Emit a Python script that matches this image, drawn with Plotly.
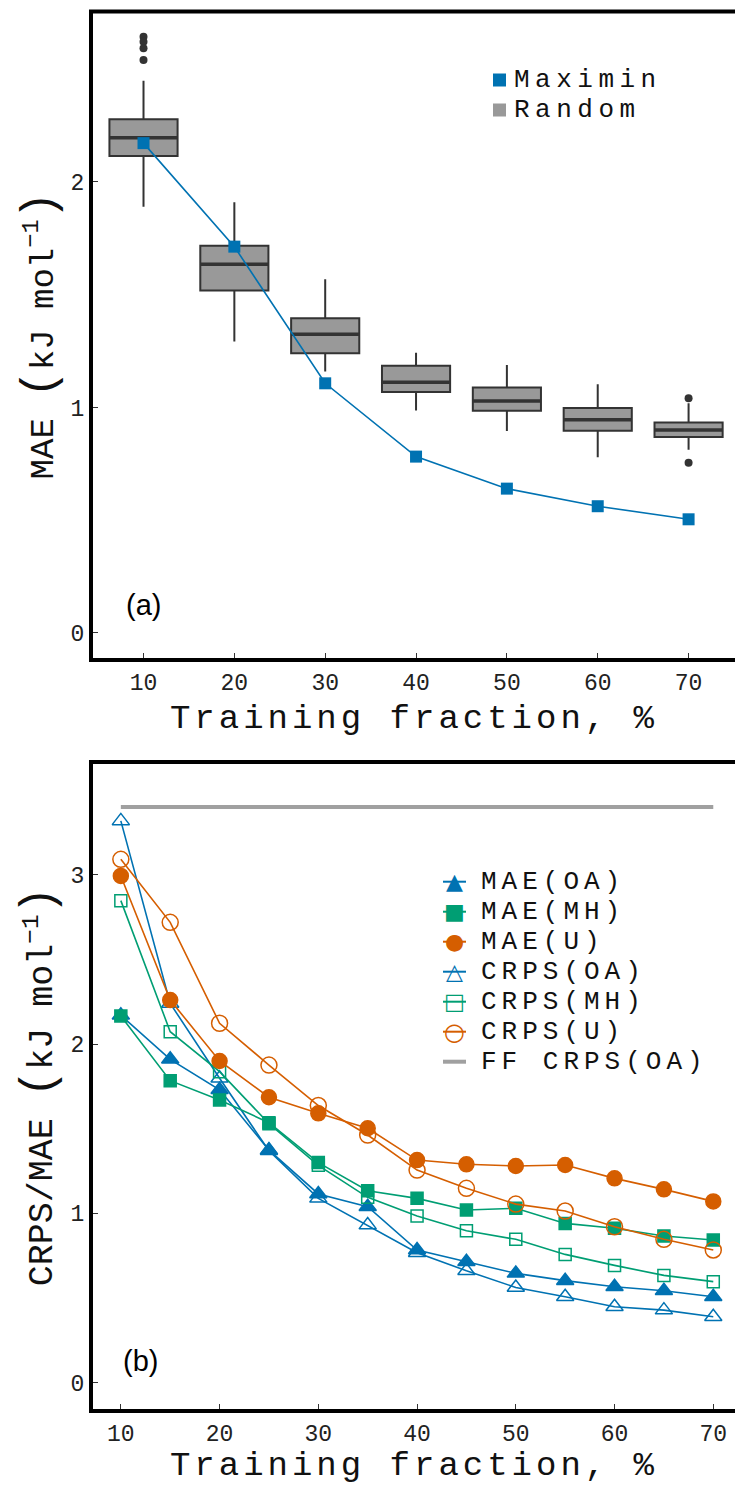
import plotly.graph_objects as go

# ---------------- data: panel (a) ----------------
frac_a = [10, 20, 30, 40, 50, 60, 70]
rand_q1 = [2.115, 1.518, 1.240, 1.068, 0.985, 0.897, 0.869]
rand_median = [2.196, 1.635, 1.325, 1.112, 1.029, 0.945, 0.900]
rand_q3 = [2.278, 1.717, 1.396, 1.185, 1.088, 0.997, 0.933]
rand_low = [1.890, 1.292, 1.159, 0.986, 0.896, 0.779, 0.812]
rand_high = [2.449, 1.910, 1.568, 1.243, 1.188, 1.103, 1.019]
outlier_x = [10, 10, 10, 10, 70, 70]
outlier_y = [2.644, 2.622, 2.593, 2.541, 1.041, 0.755]
maximin_mae = [2.172, 1.713, 1.107, 0.782, 0.640, 0.562, 0.504]

# ---------------- data: panel (b) ----------------
frac_b = [10, 15, 20, 25, 30, 35, 40, 45, 50, 55, 60, 65, 70]
mae_oa = [2.17, 1.91, 1.73, 1.374, 1.115, 1.040, 0.784, 0.715, 0.646, 0.603, 0.567, 0.543, 0.508]
mae_mh = [2.166, 1.784, 1.670, 1.536, 1.300, 1.134, 1.089, 1.020, 1.030, 0.941, 0.912, 0.867, 0.843]
mae_u = [2.993, 2.260, 1.900, 1.686, 1.591, 1.503, 1.315, 1.290, 1.280, 1.286, 1.207, 1.142, 1.071]
crps_oa = [3.318, 2.24, 1.798, 1.37, 1.089, 0.931, 0.768, 0.661, 0.563, 0.508, 0.449, 0.429, 0.390]
crps_mh = [2.847, 2.073, 1.837, 1.53, 1.284, 1.095, 0.985, 0.898, 0.847, 0.758, 0.693, 0.634, 0.597]
crps_u = [3.091, 2.719, 2.123, 1.876, 1.637, 1.463, 1.256, 1.148, 1.055, 1.014, 0.921, 0.847, 0.784]
ff_x = [10, 70]
ff_crps = [3.40, 3.40]

ticks_x = [10, 20, 30, 40, 50, 60, 70]
ticks_ya = [0, 1, 2]
ticks_yb = [0, 1, 2, 3]

# ---------------- style ----------------
BLUE, GREEN, ORANGE = "#0072B2", "#009E73", "#D55E00"
GREY_BOX, DARK = "#999999", "#333333"
MONO = "Liberation Mono, Courier New, monospace"
SANS = "Liberation Sans, Arial, sans-serif"
W, H, L = 735, 1485, 93
BOX_W = 7.5


def px(x):
    return (x - L) / (W - L)


def py(y):
    return (H - y) / H


def spaced(txt, ls):
    return f"<span style='letter-spacing:{ls}px'>{txt}</span>"


def big(ch):
    return f"<span style='font-size:46px'>{ch}</span>"


fig = go.Figure()

# panel (a): boxes
fig.add_trace(go.Box(
    x=frac_a, q1=rand_q1, median=rand_median, q3=rand_q3,
    lowerfence=rand_low, upperfence=rand_high,
    width=BOX_W, fillcolor=GREY_BOX, line=dict(color=DARK, width=2),
    whiskerwidth=0, boxpoints=False, orientation="v",
    xaxis="x", yaxis="y", showlegend=False, hoverinfo="skip"))

# thicker median bars
mx, my = [], []
for xv, m in zip(frac_a, rand_median):
    mx += [xv - BOX_W / 2, xv + BOX_W / 2, None]
    my += [m, m, None]
fig.add_trace(go.Scatter(x=mx, y=my, mode="lines", line=dict(color=DARK, width=3.5),
                         xaxis="x", yaxis="y", showlegend=False, hoverinfo="skip"))

fig.add_trace(go.Scatter(x=outlier_x, y=outlier_y, mode="markers",
                         marker=dict(symbol="circle", size=8, color=DARK),
                         xaxis="x", yaxis="y", showlegend=False))

fig.add_trace(go.Scatter(x=frac_a, y=maximin_mae, mode="lines+markers",
                         line=dict(color=BLUE, width=1.6),
                         marker=dict(symbol="square", size=12, color=BLUE),
                         xaxis="x", yaxis="y", showlegend=False))

# panel (b)
series = [
    ("FF CRPS(OA)", ff_x, ff_crps, "#A0A0A0", None, 0),
    ("MAE(OA)", frac_b, mae_oa, BLUE, "triangle-up", 15),
    ("CRPS(OA)", frac_b, crps_oa, BLUE, "triangle-up-open", 15),
    ("MAE(MH)", frac_b, mae_mh, GREEN, "square", 12),
    ("CRPS(MH)", frac_b, crps_mh, GREEN, "square-open", 12),
    ("MAE(U)", frac_b, mae_u, ORANGE, "circle", 15),
    ("CRPS(U)", frac_b, crps_u, ORANGE, "circle-open", 16),
]
for name, xs, ys, col, sym, sz in series:
    if sym is None:
        fig.add_trace(go.Scatter(x=xs, y=ys, mode="lines", name=name,
                                 line=dict(color=col, width=4),
                                 xaxis="x2", yaxis="y2", showlegend=False))
    else:
        fig.add_trace(go.Scatter(x=xs, y=ys, mode="lines+markers", name=name,
                                 line=dict(color=col, width=1.6),
                                 marker=dict(symbol=sym, size=sz, color=col,
                                             line=dict(color=col, width=1.5)),
                                 xaxis="x2", yaxis="y2", showlegend=False))

axis_common = dict(showline=True, linewidth=4, linecolor="black", mirror=False,
                   ticks="inside", ticklen=5, tickwidth=1, tickcolor=DARK,
                   showgrid=False, zeroline=False,
                   tickfont=dict(family=MONO, size=23, color="#222222"))

xtitle = dict(text=spaced("Training fraction, %", 4),
              font=dict(family=MONO, size=34, color="#111111"), standoff=10)
ytitle_a = dict(text=f"MAE {big('(')}kJ mol<sup>−1</sup>{big(')')}",
                font=dict(family=MONO, size=34, color="#111111"), standoff=8)
ytitle_b = dict(text=f"CRPS/MAE {big('(')}kJ mol<sup>−1</sup>{big(')')}",
                font=dict(family=MONO, size=35, color="#111111"), standoff=8)

fig.update_layout(
    width=W, height=H, margin=dict(l=L, r=0, t=0, b=0, autoexpand=False),
    paper_bgcolor="white", plot_bgcolor="white", showlegend=False,
    xaxis=dict(domain=[0, 1], range=[4.44, 75.11], tickvals=ticks_x, anchor="y",
               title=xtitle, **axis_common),
    yaxis=dict(domain=[py(658), py(13)], range=[-0.111, 2.749], tickvals=ticks_ya,
               anchor="x", title=ytitle_a, **axis_common),
    xaxis2=dict(domain=[0, 1], range=[7.18, 72.2], tickvals=ticks_x, anchor="y2",
                title=xtitle, **axis_common),
    yaxis2=dict(domain=[py(1409), py(764)], range=[-0.155, 3.654], tickvals=ticks_yb,
                anchor="x2", title=ytitle_b, **axis_common),
)

shapes = [
    # top frame lines of both panels
    dict(type="line", xref="paper", yref="paper", x0=px(89), x1=1.0,
         y0=py(11.5), y1=py(11.5), line=dict(color="black", width=4)),
    dict(type="line", xref="paper", yref="paper", x0=px(89), x1=1.0,
         y0=py(762), y1=py(762), line=dict(color="black", width=4)),
]

ann = []
ann.append(dict(text="(a)", xref="paper", yref="paper", x=px(143), y=py(605),
                xanchor="center", yanchor="middle", showarrow=False,
                font=dict(family=SANS, size=29, color="black")))
ann.append(dict(text="(b)", xref="paper", yref="paper", x=px(140), y=py(1361),
                xanchor="center", yanchor="middle", showarrow=False,
                font=dict(family=SANS, size=29, color="black")))

# legend (a)
for label, col, yy in [("Maximin", BLUE, 80), ("Random", GREY_BOX, 110)]:
    shapes.append(dict(type="rect", xref="paper", yref="paper",
                       x0=px(493), x1=px(506), y0=py(yy + 6.5), y1=py(yy - 6.5),
                       fillcolor=col, line=dict(width=0)))
    ann.append(dict(text=spaced(label, 5.5), xref="paper", yref="paper", x=px(512), y=py(yy),
                    xanchor="left", yanchor="middle", showarrow=False,
                    font=dict(family=MONO, size=26, color="#111111")))

# legend (b)
leg_b = [("MAE(OA)", BLUE, "▲", 22), ("MAE(MH)", GREEN, "■", 22), ("MAE(U)", ORANGE, "●", 22),
         ("CRPS(OA)", BLUE, "△", 22), ("CRPS(MH)", GREEN, "□", 22), ("CRPS(U)", ORANGE, "○", 24),
         ("FF CRPS(OA)", "#A0A0A0", None, 0)]
for i, (label, col, glyph, gs) in enumerate(leg_b):
    yy = 881.7 + 30 * i
    shapes.append(dict(type="line", xref="paper", yref="paper", x0=px(443), x1=px(466),
                       y0=py(yy), y1=py(yy),
                       line=dict(color=col, width=4 if glyph is None else 2)))
    if glyph:
        ann.append(dict(text=glyph, xref="paper",
                        yref="paper", x=px(454.5), y=py(yy), xanchor="center",
                        yanchor="middle", showarrow=False,
                        font=dict(family="DejaVu Sans", size=gs, color=col)))
    ann.append(dict(text=spaced(label, 5), xref="paper", yref="paper", x=px(479), y=py(yy),
                    xanchor="left", yanchor="middle", showarrow=False,
                    font=dict(family=MONO, size=26, color="#111111")))

fig.update_layout(shapes=shapes, annotations=ann)
fig.write_html("out.html", config={"displayModeBar": False},
               post_script="document.body.style.margin='0';"
                           "document.body.style.overflow='hidden';")
